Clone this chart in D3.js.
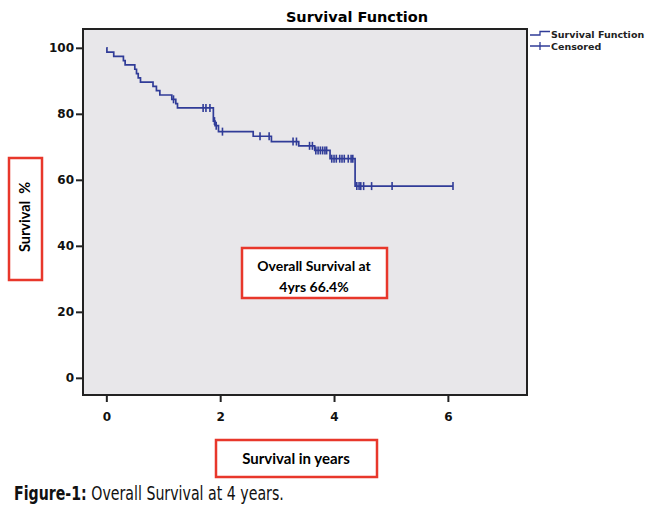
<!DOCTYPE html>
<html>
<head>
<meta charset="utf-8">
<script src="https://cdn.jsdelivr.net/npm/d3@7"></script>
<style>
  body { margin: 0; background: #fff; }
  svg { display: block; }
</style>
</head>
<body>
<div id="chart"></div>
<script>
// data
var eventTimes = [0.01, 0.13, 0.30, 0.33, 0.50, 0.53, 0.56, 0.60, 0.82, 0.88, 0.94, 1.15, 1.22, 1.25,
                  1.88, 1.91, 1.97, 2.58, 2.90, 3.38, 3.66, 3.93, 4.37];
var survAfter  = [98.7, 97.4, 96.1, 94.8, 93.5, 92.2, 90.9, 89.6, 88.3, 87.0, 85.7, 84.4, 83.1, 81.8,
                  77.8, 76.4, 74.6, 73.2, 71.6, 70.3, 68.9, 66.4, 58.1];
var censorTimes = [1.18, 1.70, 1.75, 1.82, 1.90, 1.93, 2.04, 2.70, 2.86, 3.28, 3.34, 3.57, 3.62,
                   3.68, 3.72, 3.76, 3.80, 3.84, 3.87, 3.96, 4.00, 4.04, 4.10, 4.14, 4.18, 4.25, 4.30, 4.33,
                   4.40, 4.44, 4.47, 4.52, 4.66, 5.02, 6.09];
var lastTime = 6.09;
var xTicks = [0, 2, 4, 6];
var yTicks = [0, 20, 40, 60, 80, 100];

var W = 650, H = 509,
    blue = "#303c98",
    red = "#e8372b";

var svg = d3.select("#chart").append("svg")
    .attr("width", W)
    .attr("height", H);

var x = d3.scaleLinear().domain([-0.41, 7.39]).range([83, 527]),
    y = d3.scaleLinear().domain([-5.2, 105.7]).range([395, 29]);

// plot area
svg.append("rect")
    .attr("x", x.range()[0]).attr("y", y.range()[1])
    .attr("width", x.range()[1] - x.range()[0])
    .attr("height", y.range()[0] - y.range()[1])
    .attr("fill", "#e8e7ea")
    .attr("stroke", "#222")
    .attr("stroke-width", 2);

// axes
var yAxis = svg.append("g")
    .attr("transform", "translate(" + (x.range()[0] - 1) + ",0)")
    .call(d3.axisLeft(y).tickValues(yTicks).tickSize(6).tickPadding(2));
var xAxis = svg.append("g")
    .attr("transform", "translate(0," + (y.range()[0] + 1) + ")")
    .call(d3.axisBottom(x).tickValues(xTicks).tickSize(6).tickPadding(10));

[yAxis, xAxis].forEach(function (g) {
    g.select(".domain").remove();
    g.selectAll(".tick line").attr("stroke", "#222").attr("stroke-width", 2);
    g.selectAll(".tick text")
        .attr("fill", "#111")
        .style("font-family", "'DejaVu Sans', Verdana, sans-serif")
        .style("font-weight", "bold")
        .style("font-size", "12px");
});

// survival step line
var pts = [[0, 100]];
eventTimes.forEach(function (t, i) { pts.push([t, survAfter[i]]); });
pts.push([lastTime, survAfter[survAfter.length - 1]]);

var line = d3.line()
    .x(function (d) { return x(d[0]); })
    .y(function (d) { return y(d[1]); })
    .curve(d3.curveStepAfter);

svg.append("path")
    .datum(pts)
    .attr("d", line)
    .attr("fill", "none")
    .attr("stroke", blue)
    .attr("stroke-width", 1.7);

// censor marks sit on the curve
function survAt(t) {
    var s = 100;
    eventTimes.forEach(function (e, i) { if (e <= t) s = survAfter[i]; });
    return s;
}
svg.append("g").selectAll("line")
    .data(censorTimes)
    .join("line")
    .attr("x1", function (d) { return x(d); })
    .attr("x2", function (d) { return x(d); })
    .attr("y1", function (d) { return y(survAt(d)) - 4; })
    .attr("y2", function (d) { return y(survAt(d)) + 4; })
    .attr("stroke", blue)
    .attr("stroke-width", 1.6);

// title
svg.append("text")
    .attr("x", 357).attr("y", 22)
    .attr("text-anchor", "middle")
    .style("font-family", "'DejaVu Sans', Verdana, sans-serif")
    .style("font-weight", "bold")
    .style("font-size", "14.5px")
    .text("Survival Function");

// legend
var legend = svg.append("g");
legend.append("path")
    .attr("d", "M530,35 H540 V31.5 H550")
    .attr("fill", "none").attr("stroke", blue).attr("stroke-width", 1.3);
legend.append("path")
    .attr("d", "M530,46 H550 M540,42 V50")
    .attr("fill", "none").attr("stroke", blue).attr("stroke-width", 1.3);
legend.selectAll("text")
    .data(["Survival Function", "Censored"])
    .join("text")
    .attr("x", 551)
    .attr("y", function (d, i) { return 38 + i * 11.5; })
    .style("font-family", "'DejaVu Sans', Verdana, sans-serif")
    .style("font-size", "9.5px")
    .style("font-weight", "600")
    .attr("fill", "#222")
    .text(function (d) { return d; });

// red label boxes
var labelFont = "Lato, 'Open Sans', sans-serif";

svg.append("rect")
    .attr("x", 9).attr("y", 158).attr("width", 33).attr("height", 122)
    .attr("fill", "#fff").attr("stroke", red).attr("stroke-width", 2.5);
svg.append("text")
    .attr("transform", "translate(30,217) rotate(-90)")
    .attr("text-anchor", "middle")
    .style("font-family", labelFont)
    .style("font-weight", "bold")
    .style("font-size", "14.5px")
    .style("white-space", "pre")
    .text("Survival  %");

svg.append("rect")
    .attr("x", 216).attr("y", 440).attr("width", 161).attr("height", 37)
    .attr("fill", "#fff").attr("stroke", red).attr("stroke-width", 2.5);
svg.append("text")
    .attr("x", 296).attr("y", 464)
    .attr("text-anchor", "middle")
    .style("font-family", labelFont)
    .style("font-weight", "bold")
    .style("font-size", "15px")
    .text("Survival in years");

svg.append("rect")
    .attr("x", 242).attr("y", 248).attr("width", 145).attr("height", 50)
    .attr("fill", "#fff").attr("stroke", red).attr("stroke-width", 2.5);
svg.selectAll(".note")
    .data(["Overall Survival at", "4yrs 66.4%"])
    .join("text")
    .attr("class", "note")
    .attr("x", 314)
    .attr("y", function (d, i) { return 271 + i * 21; })
    .attr("text-anchor", "middle")
    .style("font-family", labelFont)
    .style("font-weight", "bold")
    .style("font-size", "14px")
    .text(function (d) { return d; });

// caption, squeezed to look condensed
var cap = svg.append("text")
    .attr("x", 0).attr("y", 0)
    .style("font-family", "'Liberation Sans Narrow', 'DejaVu Sans', sans-serif")
    .style("font-size", "19px")
    .attr("fill", "#111");
cap.append("tspan").style("font-weight", "bold").text("Figure-1:");
cap.append("tspan").text(" Overall Survival at 4 years.");
var capW = cap.node().getComputedTextLength();
cap.attr("transform", "translate(14,500) scale(" + (270 / capW) + ",1)");
</script>
</body>
</html>
